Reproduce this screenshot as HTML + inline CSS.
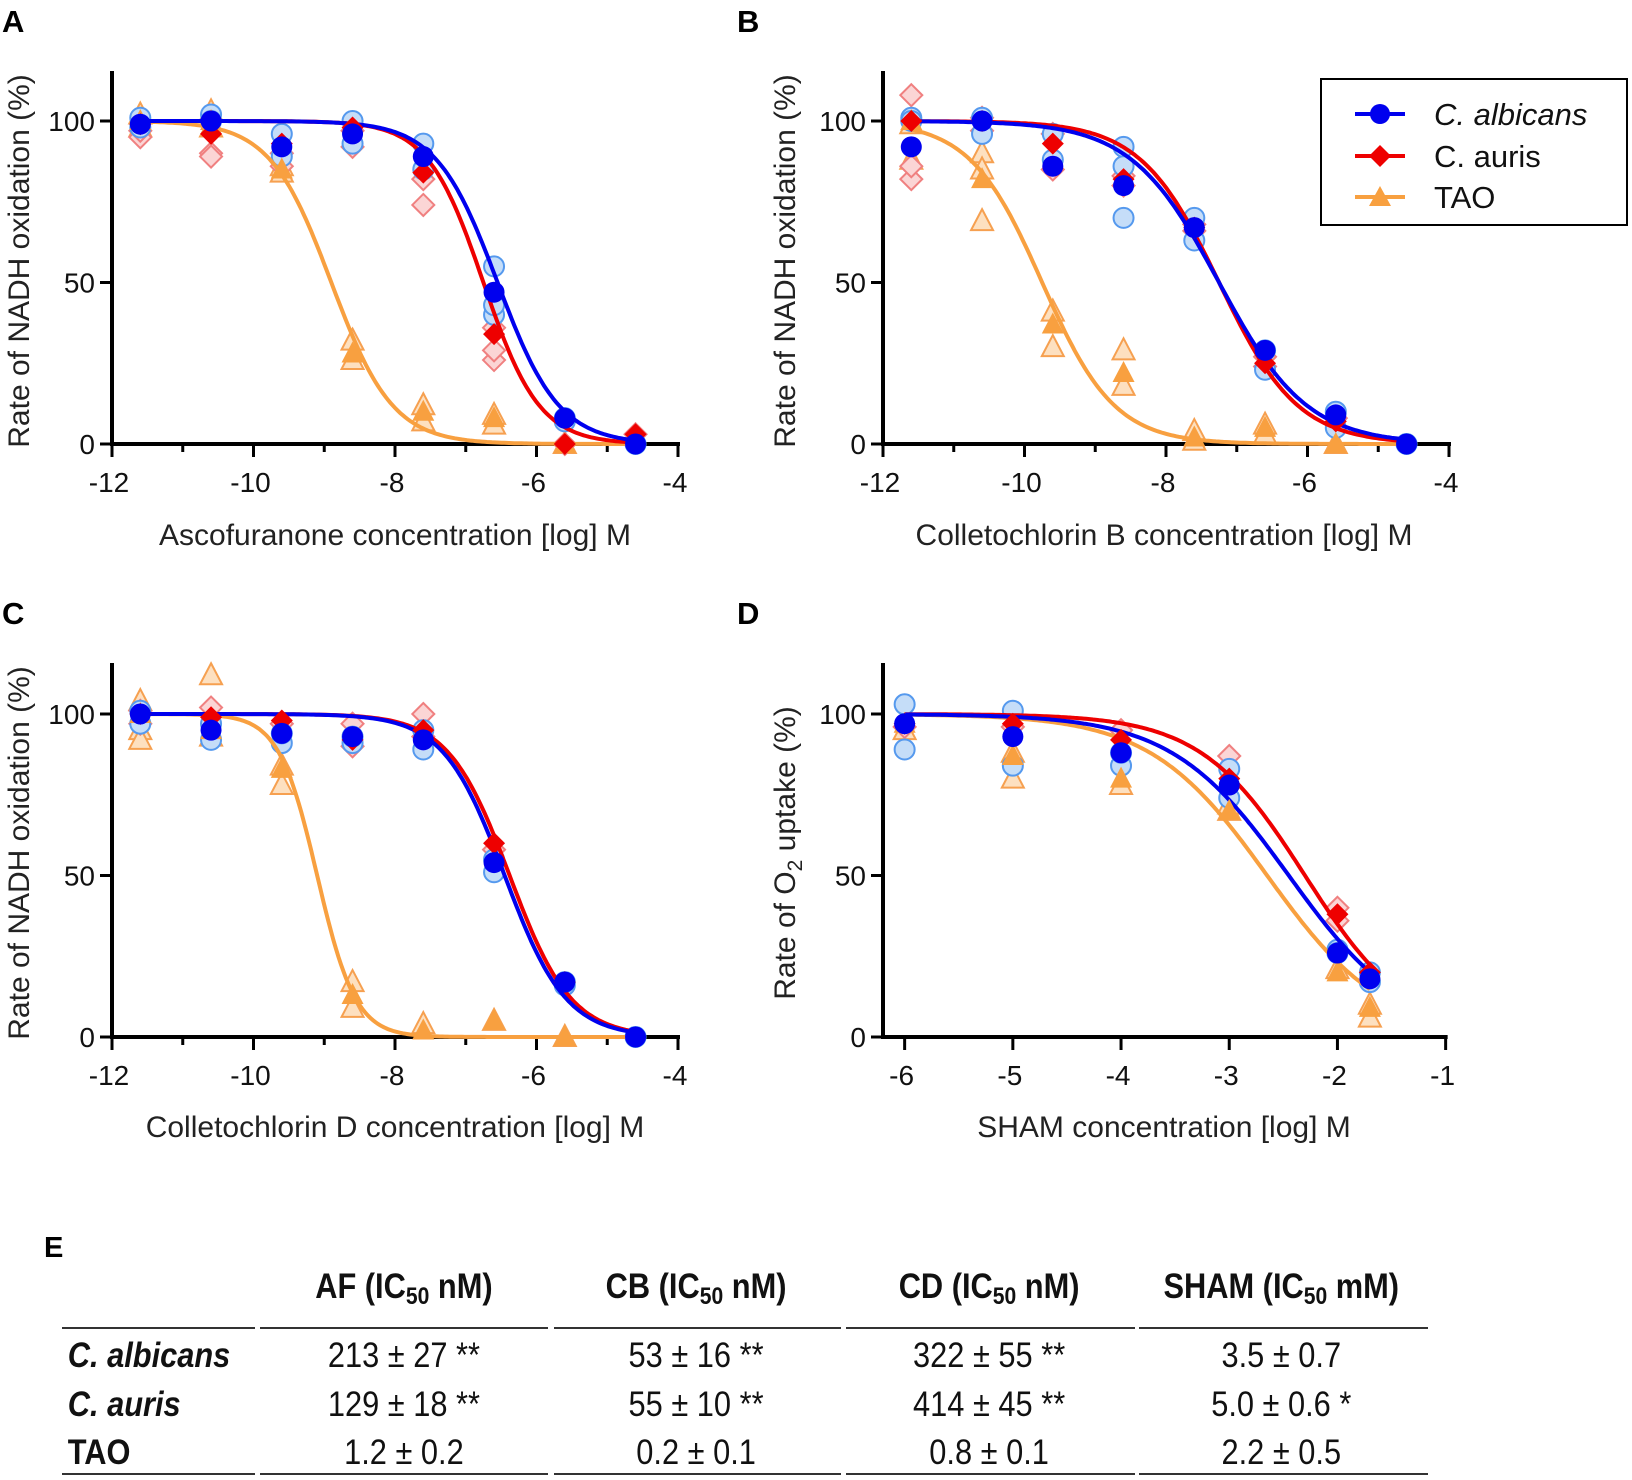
<!DOCTYPE html>
<html><head><meta charset="utf-8"><style>
html,body{margin:0;padding:0;background:#fff;}
svg{display:block;font-family:"Liberation Sans",sans-serif;}
</style></head><body>
<svg id="s" width="1632" height="1480" viewBox="0 0 1632 1480" xmlns="http://www.w3.org/2000/svg">
<g font-weight="bold" font-size="31" fill="#000">
<text x="2" y="32">A</text><text x="737" y="32">B</text>
<text x="2" y="624">C</text><text x="737" y="624">D</text>
</g>
<g font-size="30" fill="#222" text-anchor="middle">
<text x="395" y="545">Ascofuranone concentration [log] M</text>
<text x="1164" y="545">Colletochlorin B concentration [log] M</text>
<text x="395" y="1137">Colletochlorin D concentration [log] M</text>
<text x="1164" y="1137">SHAM concentration [log] M</text>
<text transform="translate(29,261) rotate(-90)">Rate of NADH oxidation (%)</text>
<text transform="translate(795,261) rotate(-90)">Rate of NADH oxidation (%)</text>
<text transform="translate(29,853) rotate(-90)">Rate of NADH oxidation (%)</text>
<text transform="translate(795,853) rotate(-90)">Rate of O<tspan font-size="21" dy="7">2</tspan><tspan dy="-7"> uptake (%)</tspan></text>
</g>
<g id="plots"></g>
<!-- legend -->
<rect x="1321" y="79" width="306" height="146" fill="#fff" stroke="#000" stroke-width="2"/>
<g stroke-width="4"><line x1="1355" y1="114" x2="1405" y2="114" stroke="#0000ee"/><line x1="1355" y1="156" x2="1405" y2="156" stroke="#ee0000"/><line x1="1355" y1="197" x2="1405" y2="197" stroke="#f8a040"/></g>
<circle cx="1380" cy="114" r="10" fill="#0000ee"/>
<polygon points="1380,145 1391,156 1380,167 1369,156" fill="#ee0000"/>
<polygon points="1380,186 1391,206 1369,206" fill="#f8a040"/>
<g font-size="31" fill="#111"><text x="1434" y="125" font-style="italic">C. albicans</text><text x="1434" y="167">C. auris</text><text x="1434" y="208">TAO</text></g>
<!-- table -->
<text x="44" y="1257" font-size="29" font-weight="bold">E</text>
<g font-size="35" fill="#111" text-anchor="middle" transform="scale(0.88,1)">
<g font-weight="bold">
<text x="459" y="1298">AF (IC<tspan font-size="24" dy="6">50</tspan><tspan dy="-6"> nM)</tspan></text>
<text x="791" y="1298">CB (IC<tspan font-size="24" dy="6">50</tspan><tspan dy="-6"> nM)</tspan></text>
<text x="1124" y="1298">CD (IC<tspan font-size="24" dy="6">50</tspan><tspan dy="-6"> nM)</tspan></text>
<text x="1456" y="1298">SHAM (IC<tspan font-size="24" dy="6">50</tspan><tspan dy="-6"> mM)</tspan></text>
</g>
<g font-weight="bold" font-style="italic" text-anchor="start"><text x="77" y="1367">C. albicans</text><text x="77" y="1416">C. auris</text><text x="77" y="1464" font-style="normal">TAO</text></g>
<text x="459" y="1367">213 ± 27 **</text><text x="791" y="1367">53 ± 16 **</text><text x="1124" y="1367">322 ± 55 **</text><text x="1456" y="1367">3.5 ± 0.7</text>
<text x="459" y="1416">129 ± 18 **</text><text x="791" y="1416">55 ± 10 **</text><text x="1124" y="1416">414 ± 45 **</text><text x="1456" y="1416">5.0 ± 0.6 *</text>
<text x="459" y="1464">1.2 ± 0.2</text><text x="791" y="1464">0.2 ± 0.1</text><text x="1124" y="1464">0.8 ± 0.1</text><text x="1456" y="1464">2.2 ± 0.5</text>
</g>
<g stroke="#333" stroke-width="2">
<line x1="62" y1="1328" x2="255" y2="1328"/><line x1="260" y1="1328" x2="548" y2="1328"/><line x1="554" y1="1328" x2="841" y2="1328"/><line x1="846" y1="1328" x2="1135" y2="1328"/><line x1="1139" y1="1328" x2="1428" y2="1328"/>
<line x1="62" y1="1474" x2="255" y2="1474"/><line x1="260" y1="1474" x2="548" y2="1474"/><line x1="554" y1="1474" x2="841" y2="1474"/><line x1="846" y1="1474" x2="1135" y2="1474"/><line x1="1139" y1="1474" x2="1428" y2="1474"/>
</g>
</svg>
<script>
var NS="http://www.w3.org/2000/svg",P=document.getElementById("plots");
function el(t,a){var e=document.createElementNS(NS,t);for(var k in a)e.setAttribute(k,a[k]);P.appendChild(e);return e;}
var C={b:["#0000ee","#c5ddf8","#5599ee"],r:["#ee0000","#fbd5d5","#f08080"],o:["#f8a040","#fde0c0","#f6a050"]};
function mark(k,x,y,light){var c=C[k],f=light?c[1]:c[0],s=light?c[2]:"none",w=light?2:0;
 if(k=="b")el("circle",{cx:x,cy:y,r:light?10:10.5,fill:f,stroke:s,"stroke-width":w});
 else if(k=="r")el("polygon",{points:(x)+","+(y-11)+" "+(x+11)+","+y+" "+x+","+(y+11)+" "+(x-11)+","+y,fill:f,stroke:s,"stroke-width":w});
 else el("polygon",{points:x+","+(y-12)+" "+(x+11)+","+(y+9)+" "+(x-11)+","+(y+9),fill:f,stroke:s,"stroke-width":w});}
function panel(o){
 var X=function(v){return o.ax+(v-o.x0)*o.sx;},Y=function(v){return o.y0-v*3.23;};
 var ybot=o.y0;
 el("line",{x1:o.ax,y1:o.top,x2:o.ax,y2:ybot+2,stroke:"#000","stroke-width":4});
 el("line",{x1:o.ax-2,y1:ybot,x2:X(o.xmax)+2,y2:ybot,stroke:"#000","stroke-width":4});
 [0,50,100].forEach(function(v){el("line",{x1:o.ax-12,y1:Y(v),x2:o.ax,y2:Y(v),stroke:"#000","stroke-width":3});
  var t=el("text",{x:o.ax-17,y:Y(v)+10,"font-size":28,"text-anchor":"end",fill:"#111"});t.textContent=v;});
 o.ticks.forEach(function(v){el("line",{x1:X(v),y1:ybot,x2:X(v),y2:ybot+13,stroke:"#000","stroke-width":3});
  var t=el("text",{x:X(v)-3,y:ybot+48,"font-size":28,"text-anchor":"middle",fill:"#111"});t.textContent=v;});
 (o.minor||[]).forEach(function(v){el("line",{x1:X(v),y1:ybot,x2:X(v),y2:ybot+8,stroke:"#000","stroke-width":3});});
 ["o","r","b"].forEach(function(k){var d=o.d[k];d.reps.forEach(function(r,i){r.forEach(function(v){mark(k,X(o.xs[i]),Y(v),true);});});});
 ["o","r","b"].forEach(function(k){var d=o.d[k],p="";for(var i=0;i<=200;i++){var x=o.cx0+(o.cx1-o.cx0)*i/200,y=100/(1+Math.pow(10,(x-d.ic)*d.h));p+=(i?"L":"M")+X(x).toFixed(1)+","+Y(y).toFixed(1);}
  el("path",{d:p,fill:"none",stroke:C[k][0],"stroke-width":4});});
 ["o","r","b"].forEach(function(k){var d=o.d[k];d.m.forEach(function(v,i){if(v!=null)mark(k,X(o.xs[i]),Y(v),false);});});
}
var xsA=[-11.6,-10.6,-9.6,-8.6,-7.6,-6.6,-5.6,-4.6];
var base={top:71,y0:444,sx:70.75,x0:-12,xmax:-4,ticks:[-12,-10,-8,-6,-4],minor:[-11,-9,-7,-5],xs:xsA,cx0:-11.6,cx1:-4.6};
function mk(ax,y0,top,d){var o=Object.assign({},base);o.ax=ax;o.y0=y0;o.top=top;o.d=d;return o;}
panel(mk(112,444,71,{
 b:{ic:-6.55,h:1,m:[99,100,92,96,89,47,8,0],reps:[[101,98],[102,100],[96,89],[100,93],[93,85],[55,40,43],[8,7],[0]]},
 r:{ic:-6.75,h:1.1,m:[99,96,93,98,84,34,0,3],reps:[[95,97],[90,89],[86,90],[92,97],[74,82],[26,29,36],[0],[3]]},
 o:{ic:-8.9,h:1,m:[100,100,85,28,10,8,0,null],reps:[[102,98],[103,98],[84,86],[32,26],[12,7],[9,6],[0],[]]}}));
panel(mk(883,444,71,{
 b:{ic:-7.25,h:0.7,m:[92,100,86,80,67,29,9,0],reps:[[101,100],[96,101],[96,88],[92,70,86],[70,63],[29,23],[5,10],[0]]},
 r:{ic:-7.25,h:0.78,m:[100,100,93,82,67,25,7,null],reps:[[108,82,86],[101,97],[85,96],[83,80],[68,66],[27,24],[8],[]]},
 o:{ic:-9.75,h:0.85,m:[100,82,37,22,2,5,0,null],reps:[[99,88],[90,69,85],[41,30],[29,18],[4,1],[6,3],[0],[]]}}));
panel(mk(112,1037,663,{
 b:{ic:-6.45,h:1,m:[100,95,94,93,92,54,17,0],reps:[[97,101],[92,97],[91,94],[91,93],[89,95],[51,55],[16,17],[0]]},
 r:{ic:-6.38,h:1,m:[100,99,98,92,95,60,17,null],reps:[[101,97],[102],[97],[97,90],[100,93],[58],[],[]]},
 o:{ic:-9.1,h:1.6,m:[100,95,83,13,2,5,0,null],reps:[[104,95,92],[112,93],[78,84],[17,9],[4],[5],[0],[]]}}));
var oD={ax:883,y0:1037,top:663,sx:108.2,x0:-6.2,xmax:-1,ticks:[-6,-5,-4,-3,-2,-1],minor:[],xs:[-6,-5,-4,-3,-2,-1.7],cx0:-6,cx1:-1.7,d:{
 b:{ic:-2.45,h:0.8,m:[97,93,88,78,26,18],reps:[[103,89],[101,84],[84,88],[83,74],[27,26],[20,17]]},
 r:{ic:-2.3,h:0.9,m:[97,97,92,80,38,20],reps:[[96],[96],[95],[87],[40,36],[]]},
 o:{ic:-2.65,h:0.8,m:[97,87,80,70,20,9],reps:[[95],[88,80],[78],[70,72],[21],[10,6]]}}};
panel(oD);
</script>
</body></html>
